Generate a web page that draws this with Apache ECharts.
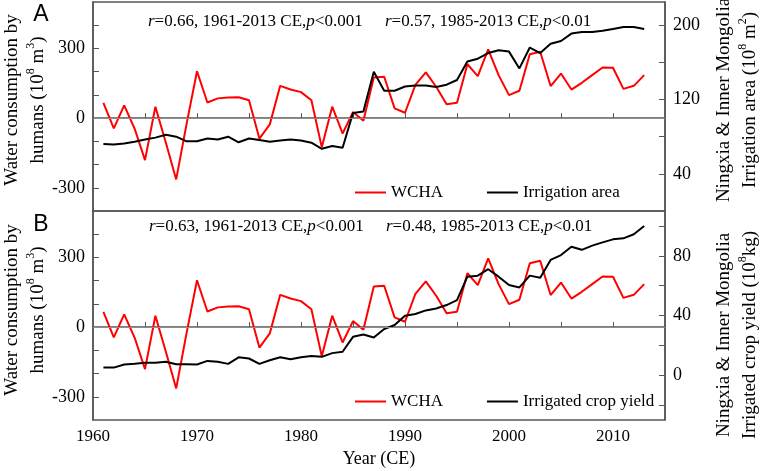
<!DOCTYPE html>
<html>
<head>
<meta charset="utf-8">
<script src="https://cdn.jsdelivr.net/npm/echarts@6/dist/echarts.min.js"></script>
<style>
    html, body { margin: 0; padding: 0; background: #fff; }
    #main { width: 762px; height: 471px; }
</style>
</head>
<body>
<div id="main"></div>
<script>
// years 1961-2013
const years = [1961, 1962, 1963, 1964, 1965, 1966, 1967, 1968, 1969, 1970,
    1971, 1972, 1973, 1974, 1975, 1976, 1977, 1978, 1979, 1980,
    1981, 1982, 1983, 1984, 1985, 1986, 1987, 1988, 1989, 1990,
    1991, 1992, 1993, 1994, 1995, 1996, 1997, 1998, 1999, 2000,
    2001, 2002, 2003, 2004, 2005, 2006, 2007, 2008, 2009, 2010,
    2011, 2012, 2013]

// water consumption by humans (10^8 m^3)
const wcha = [66, -44, 55, -45, -181, 49, -105, -264, -25, 202,
    67, 85, 89, 90, 77, -88, -27, 139, 123, 112,
    77, -126, 49, -66, 26, -11, 175, 178, 42, 23,
    143, 197, 135, 60, 66, 232, 181, 296, 185, 99,
    118, 275, 286, 138, 192, 123, 152, 185, 218, 217,
    126, 139, 185]

// irrigation area (10^8 m^2)
const irrArea = [72, 71.6, 72.7, 74.5, 77, 79, 82, 80, 75, 75,
    78, 77, 80, 74, 78, 76.4, 74.5, 76, 77, 76,
    73.5, 67, 70, 68, 105.5, 107, 150, 129.5, 129.5, 134,
    135, 135, 133.5, 136, 141, 161, 164, 170, 173, 171.6,
    153.5, 176, 170, 180, 183, 191, 192.7, 192.7, 194, 196,
    198, 198, 196]

// irrigated crop yield (10^8 kg)
const cropYield = [5.1, 5.1, 7.2, 7.6, 8.3, 8.3, 9, 7.4, 7.4, 7.2,
    9.6, 9, 7.6, 12, 11.2, 7.6, 10, 12, 10.7, 12,
    12.8, 12.3, 14.8, 15.7, 25.7, 27.3, 25.3, 30.9, 33.6, 39.8,
    41, 43.4, 44.7, 47, 50.3, 66, 66.7, 71, 66, 60.4,
    58.8, 66.7, 65.3, 77.2, 80.5, 86, 84, 86.8, 89, 91,
    91.7, 94.4, 100]

// ticks and labels
const xTicks = [1965, 1970, 1975, 1980, 1985, 1990, 1995, 2000, 2005, 2010]
const xLabels = [1960, 1970, 1980, 1990, 2000, 2010]
const wTicks = [-300, -200, -100, 0, 100, 200, 300, 400]
const wLabels = [-300, 0, 300]
const areaTicks = [40, 80, 120, 160, 200]
const areaLabels = [40, 120, 200]
const yieldTicks = [-20, 0, 20, 40, 60, 80, 100]
const yieldLabels = [0, 40, 80]

const serif = 'Liberation Serif'
const axisColor = '#555'

function pairs(vals) {
    return years.map((y, i) => [y, vals[i]])
}

function xAxisOf(grid, showLabel) {
    return {
        type: 'value', gridIndex: grid, min: 1960, max: 2015,
        axisLine: { show: true, lineStyle: { color: axisColor, width: 1.5 } },
        axisTick: { show: true, inside: true, length: 5, customValues: xTicks, lineStyle: { color: axisColor } },
        axisLabel: {
            show: showLabel, customValues: xLabels, margin: 8, color: '#000', fontFamily: serif, fontSize: 17,
            formatter: v => String(v)
        },
        splitLine: { show: false },
        name: showLabel ? 'Year (CE)' : '',
        nameLocation: 'middle', nameGap: 30,
        nameTextStyle: { color: '#000', fontFamily: serif, fontSize: 18 }
    }
}

function yAxisOf(grid, pos, min, max, ticks, labels) {
    return {
        type: 'value', gridIndex: grid, position: pos, min: min, max: max,
        axisLine: { show: true, lineStyle: { color: axisColor, width: 1.5 } },
        axisTick: { show: true, inside: true, length: 6, customValues: ticks, lineStyle: { color: axisColor } },
        axisLabel: { customValues: labels, margin: 8, color: '#000', fontFamily: serif, fontSize: 18 },
        splitLine: { show: false }
    }
}

const zeroLine = {
    silent: true, symbol: 'none', label: { show: false },
    lineStyle: { color: '#8c8c8c', type: 'solid', width: 1 },
    data: [{ yAxis: 0 }]
}

const supStyle = { fontFamily: serif, fontSize: 12, verticalAlign: 'top', lineHeight: 26 }
const itStyle = { fontFamily: serif, fontSize: 17, fontStyle: 'italic' }

function rotText(x, y, text) {
    return {
        type: 'text', x: x, y: y, rotation: Math.PI / 2,
        style: {
            text: text, fill: '#000', fontFamily: serif, fontSize: 19, lineHeight: 26,
            align: 'center', verticalAlign: 'middle', rich: { s: supStyle }
        }
    }
}

function note(x, y, text) {
    return {
        type: 'text', x: x, y: y,
        style: {
            text: text, fill: '#000', fontFamily: serif, fontSize: 17,
            align: 'left', verticalAlign: 'middle', rich: { i: itStyle }
        }
    }
}

function panelLetter(x, y, text) {
    return {
        type: 'text', x: x, y: y,
        style: { text: text, fill: '#000', fontFamily: 'Liberation Sans', fontSize: 23, align: 'center', verticalAlign: 'middle' }
    }
}

function legendOf(top, names) {
    return {
        data: names, left: 350, top: top, icon: 'rect', itemWidth: 31, itemHeight: 2, itemGap: 44,
        selectedMode: false,
        textStyle: { color: '#000', fontFamily: serif, fontSize: 17 }
    }
}

let myChart = echarts.init(document.querySelector('#main'))

const option = {
    animation: false,
    backgroundColor: '#fff',
    grid: [
        { left: 93, top: 2, width: 572, height: 209, show: true, borderColor: axisColor, borderWidth: 1.5 },
        { left: 93, top: 211, width: 572, height: 209, show: true, borderColor: axisColor, borderWidth: 1.5 }
    ],
    xAxis: [xAxisOf(0, false), xAxisOf(1, true)],
    yAxis: [
        yAxisOf(0, 'left', -400, 500, wTicks, wLabels),
        yAxisOf(0, 'right', 0, 225, areaTicks, areaLabels),
        yAxisOf(1, 'left', -400, 500, wTicks, wLabels),
        yAxisOf(1, 'right', -30, 110, yieldTicks, yieldLabels)
    ],
    legend: [
        legendOf(179, ['WCHA', 'Irrigation area']),
        legendOf(388, ['WCHA', 'Irrigated crop yield'])
    ],
    series: [
        {
            name: 'WCHA', type: 'line', xAxisIndex: 0, yAxisIndex: 0, data: pairs(wcha),
            symbol: 'none', color: '#ff0000', lineStyle: { width: 2 }, markLine: zeroLine
        },
        {
            name: 'Irrigation area', type: 'line', xAxisIndex: 0, yAxisIndex: 1, data: pairs(irrArea),
            symbol: 'none', color: '#000', lineStyle: { width: 2 }
        },
        {
            name: 'WCHA', type: 'line', xAxisIndex: 1, yAxisIndex: 2, data: pairs(wcha),
            symbol: 'none', color: '#ff0000', lineStyle: { width: 2 }, markLine: zeroLine
        },
        {
            name: 'Irrigated crop yield', type: 'line', xAxisIndex: 1, yAxisIndex: 3, data: pairs(cropYield),
            symbol: 'none', color: '#000', lineStyle: { width: 2 }
        }
    ],
    graphic: [
        panelLetter(41, 15, 'A'),
        panelLetter(41, 225, 'B'),
        note(148, 22, '{i|r}=0.66, 1961-2013 CE,{i|p}<0.001'),
        note(385, 22, '{i|r}=0.57, 1985-2013 CE,{i|p}<0.01'),
        note(149, 227, '{i|r}=0.63, 1961-2013 CE,{i|p}<0.001'),
        note(386, 227, '{i|r}=0.48, 1985-2013 CE,{i|p}<0.01'),
        rotText(25, 100, 'Water consumption by\nhumans (10{s|8} m{s|3})'),
        rotText(25, 310, 'Water consumption by\nhumans (10{s|8} m{s|3})'),
        rotText(737, 100, 'Ningxia & Inner Mongolia\nIrrigation area (10{s|8} m{s|2})'),
        rotText(737, 335, 'Ningxia & Inner Mongolia\nIrrigated crop yield (10{s|8}kg)')
    ]
}

myChart.setOption(option)
</script>
</body>
</html>
